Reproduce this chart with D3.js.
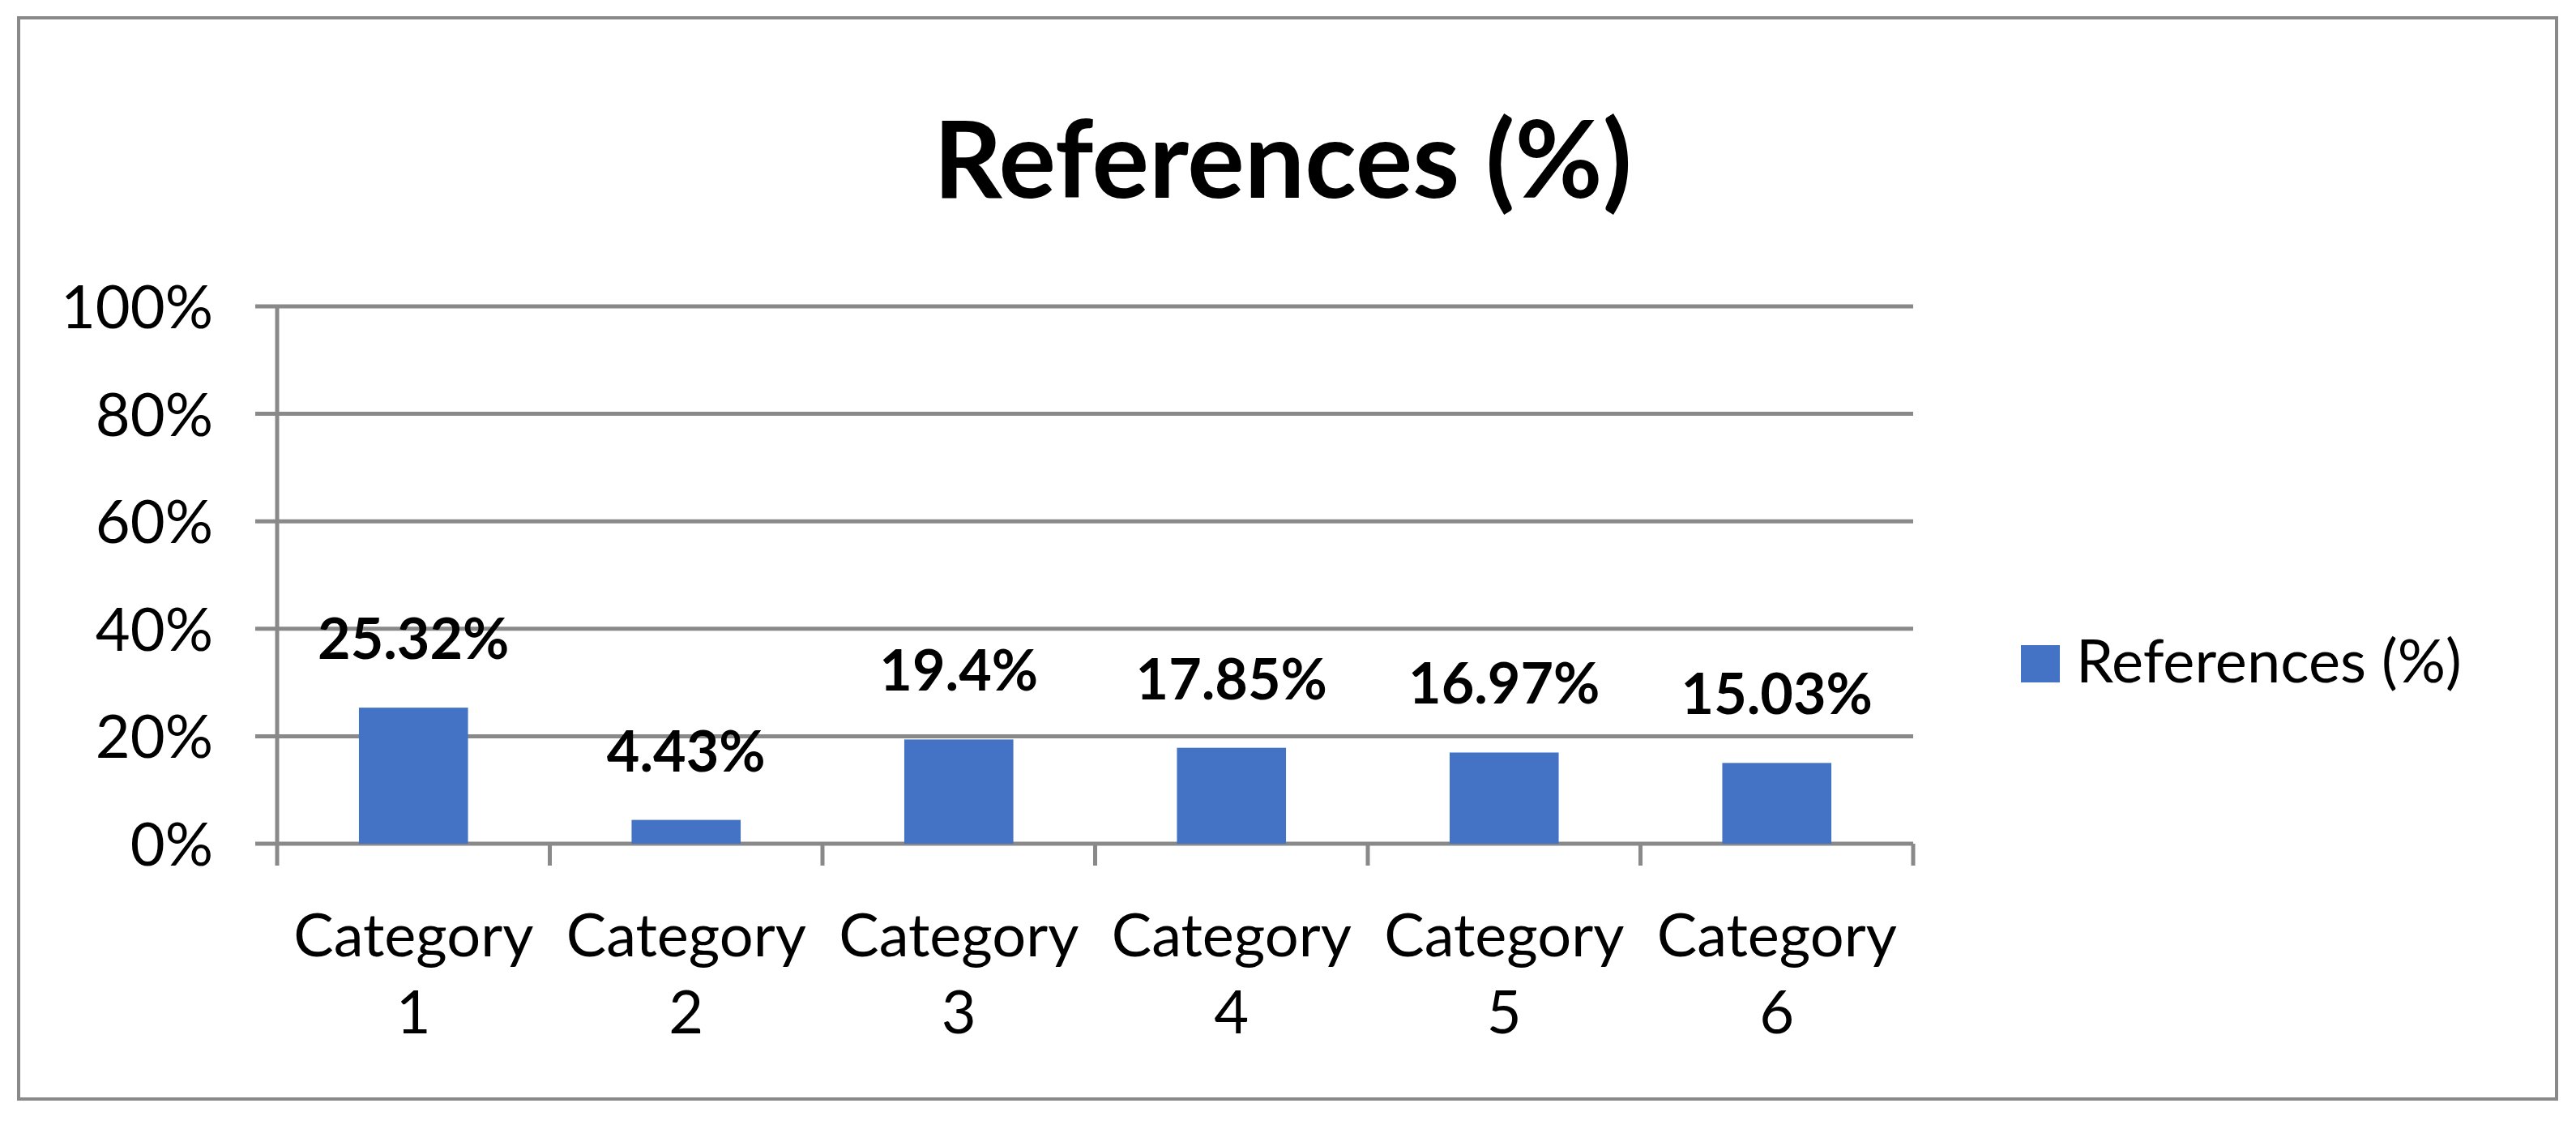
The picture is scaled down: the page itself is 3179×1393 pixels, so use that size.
<!DOCTYPE html>
<html><head><meta charset="utf-8">
<script src="https://cdn.jsdelivr.net/npm/d3@7"></script>
<style>body{margin:0;background:#fff}text{font-family:Lato,"Open Sans",sans-serif}</style>
</head><body><svg id="chart" width="3179" height="1393"></svg>
<script>
var categories = ["Category 1","Category 2","Category 3","Category 4","Category 5","Category 6"];
var values = [25.32, 4.43, 19.4, 17.85, 16.97, 15.03];
var labels = ["25.32%","4.43%","19.4%","17.85%","16.97%","15.03%"];
var yTicks = [0, 20, 40, 60, 80, 100];
var seriesName = "References (%)";

var svg = d3.select("#chart");
var grey = "#898989", blue = "#4472c4";
var plotLeft = 342, plotRight = 2361, plotTop = 378, plotBottom = 1041;

svg.append("rect").attr("x", 23).attr("y", 22).attr("width", 3132).attr("height", 1334)
  .attr("fill", "none").attr("stroke", grey).attr("stroke-width", 4);

svg.append("text").attr("x", 1583).attr("y", 244).attr("text-anchor", "middle")
  .attr("font-size", 132).attr("font-weight", "bold").text("References (%)");

var x = d3.scaleBand().domain(categories).range([plotLeft, plotRight]).paddingInner(0.6).paddingOuter(0.3);
var xb = d3.scaleBand().domain(categories).range([plotLeft, plotRight]);
var y = d3.scaleLinear().domain([0, 100]).range([plotBottom, plotTop]);

var g = svg.append("g");
g.selectAll(".grid").data(yTicks).enter().append("line")
  .attr("x1", plotLeft - 27).attr("x2", plotRight).attr("y1", d => y(d)).attr("y2", d => y(d))
  .attr("stroke", grey).attr("stroke-width", 5);
g.append("line").attr("x1", plotLeft).attr("x2", plotLeft).attr("y1", plotTop).attr("y2", plotBottom + 27)
  .attr("stroke", grey).attr("stroke-width", 5);
var ticksX = categories.map(c => xb(c) + xb.bandwidth());
g.selectAll(".xt").data(ticksX).enter().append("line")
  .attr("x1", d => d).attr("x2", d => d).attr("y1", plotBottom).attr("y2", plotBottom + 27)
  .attr("stroke", grey).attr("stroke-width", 5);

g.selectAll(".yl").data(yTicks).enter().append("text")
  .attr("x", 263).attr("y", d => y(d) + 27).attr("text-anchor", "end")
  .attr("font-size", 74).text(d => d + "%");

g.selectAll(".bar").data(values).enter().append("rect")
  .attr("x", (d, i) => x(categories[i])).attr("width", x.bandwidth())
  .attr("y", d => y(d)).attr("height", d => plotBottom - y(d)).attr("fill", blue);

g.selectAll(".dl").data(values).enter().append("text")
  .attr("x", (d, i) => x(categories[i]) + x.bandwidth() / 2).attr("y", d => y(d) - 60)
  .attr("text-anchor", "middle").attr("font-size", 70).attr("font-weight", "bold")
  .text((d, i) => labels[i]);

var cl = g.selectAll(".cl").data(categories).enter().append("text")
  .attr("text-anchor", "middle").attr("font-size", 74);
cl.append("tspan").attr("x", d => xb(d) + xb.bandwidth() / 2).attr("y", 1180).text(d => d.split(" ")[0]);
cl.append("tspan").attr("x", d => xb(d) + xb.bandwidth() / 2).attr("y", 1275).text(d => d.split(" ")[1]);

svg.append("rect").attr("x", 2494).attr("y", 796).attr("width", 48).attr("height", 46).attr("fill", blue);
svg.append("text").attr("x", 2562).attr("y", 842).attr("font-size", 74).text(seriesName);
</script></body></html>
